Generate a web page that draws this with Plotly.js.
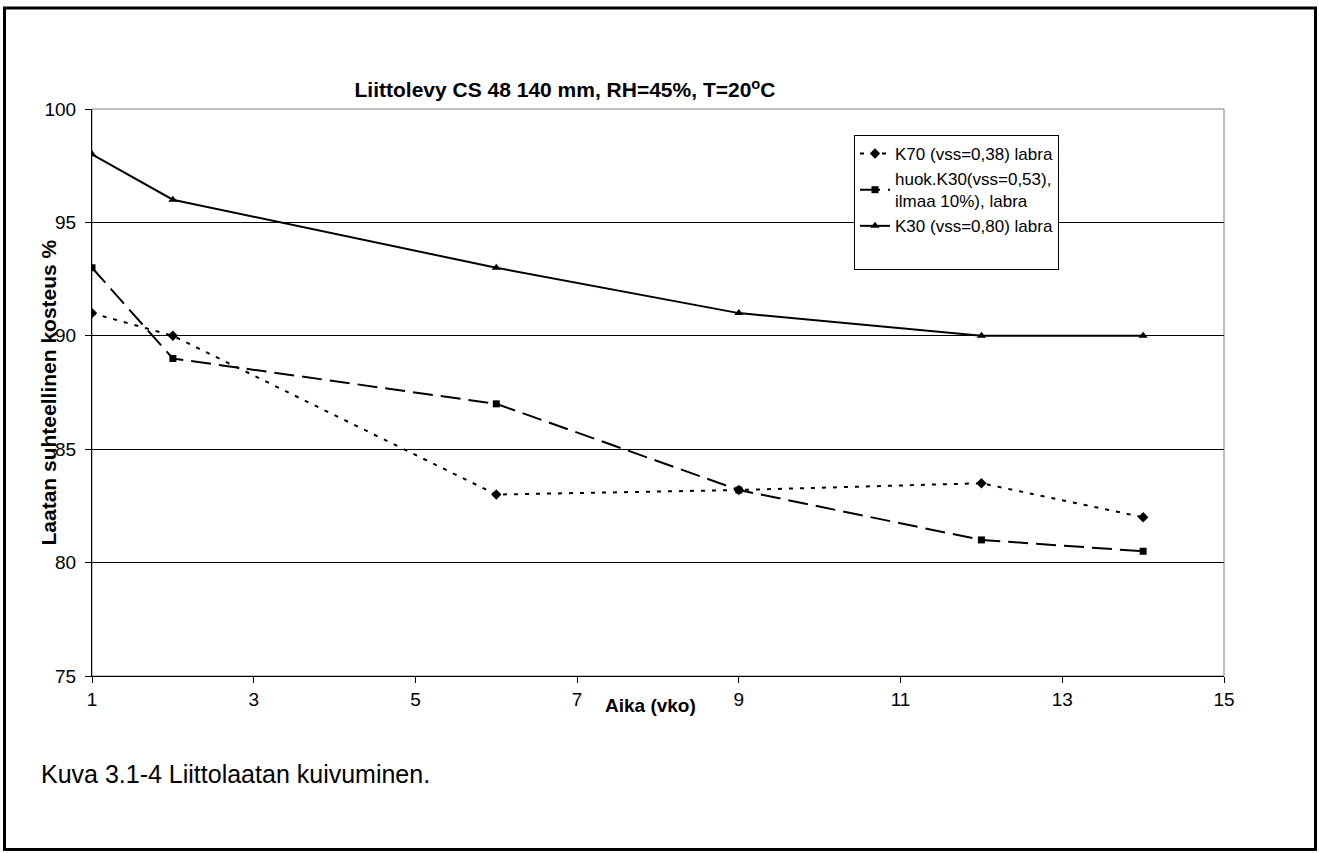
<!DOCTYPE html>
<html>
<head>
<meta charset="utf-8">
<script src="https://cdn.plot.ly/plotly-3.0.1.min.js"></script>
<style>
html,body{margin:0;padding:0;background:#fff;}
#chart{width:1319px;height:853px;}
</style>
</head>
<body>
<div id="chart"></div>
<script>
const weeks = [1, 2, 6, 9, 12, 14];
const k70 = [91, 90, 83, 83.2, 83.5, 82];
const huokK30 = [93, 89, 87, 83.2, 81, 80.5];
const k30 = [98, 96, 93, 91, 90, 90];
const seriesNames = ["K70 (vss=0,38) labra", "huok.K30(vss=0,53),<br>ilmaa 10%), labra", "K30 (vss=0,80) labra"];
const xTicks = [1, 3, 5, 7, 9, 11, 13, 15];
const yTicks = [75, 80, 85, 90, 95, 100];

const FONT = "Liberation Sans, Arial, sans-serif";
const W = 1319, H = 853;
const L = 92, R = 1224, T = 109, B = 676;
const pw = R - L, ph = B - T;
const px = v => (v - L) / pw;
const py = v => (B - v) / ph;

const traces = [
  {x: weeks, y: k70, name: seriesNames[0], mode: "lines+markers",
   line: {color: "#000", width: 2, dash: "4px,7px"}, marker: {symbol: "diamond", size: 8, color: "#000"}},
  {x: weeks, y: huokK30, name: seriesNames[1], mode: "lines+markers",
   line: {color: "#000", width: 2, dash: "20px,8px"}, marker: {symbol: "square", size: 7, color: "#000"}},
  {x: weeks, y: k30, name: seriesNames[2], mode: "lines+markers",
   line: {color: "#000", width: 2, dash: "solid"}, marker: {symbol: "triangle-up", size: 8, color: "#000"}},
  {x: [null], y: [null], name: " ", mode: "lines", line: {color: "rgba(0,0,0,0)", width: 0}, hoverinfo: "skip"}
];

const layout = {
  width: W, height: H,
  margin: {l: L, r: W - R, t: T, b: H - B, pad: 0},
  paper_bgcolor: "#fff", plot_bgcolor: "#fff",
  font: {family: FONT, size: 18, color: "#000"},
  showlegend: true,
  title: {text: "<b>Liittolevy CS 48 140 mm, RH=45%, T=20<sup>o</sup>C</b>", font: {family: FONT, size: 21, color: "#000"},
          xref: "container", yref: "container", x: 565 / W, y: 1 - 90 / H, xanchor: "center", yanchor: "middle"},
  xaxis: {range: [1, 15], tickvals: xTicks, ticktext: xTicks.map(String), showgrid: false, zeroline: false,
          showline: true, linecolor: "#000", linewidth: 1, ticks: "outside", ticklen: 6, tickcolor: "#000",
          tickfont: {family: FONT, size: 19, color: "#000"}},
  yaxis: {range: [75, 100], tickvals: yTicks, ticktext: yTicks.map(String), showgrid: true, gridcolor: "#000", gridwidth: 1,
          zeroline: false, showline: true, linecolor: "#000", linewidth: 1, ticks: "outside", ticklen: 6, tickcolor: "#000",
          ticklabelstandoff: 5, tickfont: {family: FONT, size: 19, color: "#000"}},
  legend: {x: px(854), y: py(135), xanchor: "left", yanchor: "top", bgcolor: "#fff", bordercolor: "#000", borderwidth: 1,
           font: {family: FONT, size: 17, color: "#000"}, tracegroupgap: 6, itemwidth: 30},
  annotations: [
    {text: "<b>Laatan suhteellinen kosteus %</b>", xref: "paper", yref: "paper", x: px(48), y: 0.5, textangle: -90,
     showarrow: false, xanchor: "center", yanchor: "middle", font: {family: FONT, size: 21, color: "#000"}},
    {text: "<b>Aika (vko)</b>", xref: "paper", yref: "paper", x: px(650), y: py(705), showarrow: false,
     xanchor: "center", yanchor: "middle", font: {family: FONT, size: 19, color: "#000"}},
    {text: "Kuva 3.1-4 Liittolaatan kuivuminen.", xref: "paper", yref: "paper", x: px(39), y: py(774), showarrow: false,
     xanchor: "left", yanchor: "middle", font: {family: FONT, size: 25, color: "#000"}}
  ],
  shapes: [
    {type: "rect", xref: "paper", yref: "paper", x0: 0, x1: 1, y0: 0, y1: 1, line: {color: "#808080", width: 1}, layer: "below"},
    {type: "rect", xref: "paper", yref: "paper", x0: px(4.5), x1: px(1315.5), y0: py(849.5), y1: py(8), line: {color: "#000", width: 3}}
  ]
};

Plotly.newPlot("chart", traces, layout, {displayModeBar: false, staticPlot: true});
</script>
</body>
</html>
